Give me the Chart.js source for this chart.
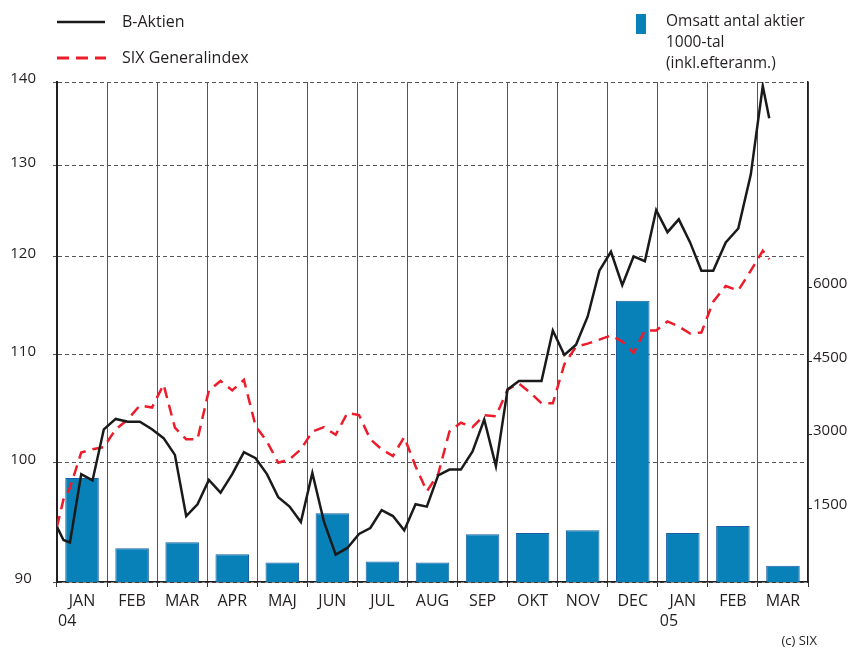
<!DOCTYPE html>
<html>
<head>
<meta charset="utf-8">
<script src="https://cdn.jsdelivr.net/npm/chart.js@4.4.1/dist/chart.umd.min.js"></script>
<style>
    html, body { margin: 0; padding: 0; background: #ffffff; }
    #wrap { width: 850px; height: 648px; }
</style>
</head>
<body>
<div id="wrap"><canvas id="chart" width="850" height="648"></canvas></div>
<script>
// Month categories (Jan 2004 - Mar 2005)
const months = ["JAN", "FEB", "MAR", "APR", "MAJ", "JUN", "JUL", "AUG", "SEP", "OKT", "NOV", "DEC", "JAN", "FEB", "MAR"];

// Omsatt antal aktier, 1000-tal, per month
const volume = [2120, 690, 810, 565, 400, 1400, 420, 400, 975, 1000, 1055, 5740, 1000, 1140, 330];

// B-Aktien, weekly
const bAktien = [
    94.5, 93.4, 93.2, 99.0, 98.45, 103.0, 103.95, 103.7, 103.7, 103.0,
    102.2, 100.7, 95.4, 96.4, 98.5, 97.4, 99.0, 100.95, 100.4, 99.0,
    97.0, 96.2, 94.9, 99.1, 94.9, 92.2, 92.75, 93.9, 94.4, 95.9,
    95.4, 94.2, 96.4, 96.2, 98.9, 99.4, 99.4, 101.0, 103.9, 99.7,
    106.7, 107.5, 107.5, 107.5, 112.4, 110.0, 111.0, 113.8, 118.5, 120.5,
    117.0, 120.0, 119.5, 125.0, 122.6, 124.0, 121.5, 118.5, 118.5, 121.5,
    123.0, 129.0, 139.5, 135.6
];

// SIX Generalindex, weekly
const sixIndex = [
    94.5, 96.8, 97.8, 100.9, 101.2, 101.4, 103.0, 103.9, 105.2, 105.0,
    107.15, 103.15, 102.1, 102.1, 106.6, 107.5, 106.6, 107.6, 103.3, 101.9,
    100.0, 100.3, 101.2, 102.8, 103.2, 102.5, 104.5, 104.3, 102.1, 101.2,
    100.6, 102.3, 99.7, 97.5, 99.0, 102.8, 103.6, 103.2, 104.3, 104.2,
    106.7, 107.25, 106.4, 105.4, 105.4, 109.1, 110.8, 111.1, 111.5, 111.9,
    111.3, 110.2, 112.4, 112.4, 113.3, 112.8, 112.1, 112.2, 115.3, 116.9,
    116.45, 118.5, 120.6, 119.7
];

const leftTicks = [90, 100, 110, 120, 130, 140];
const rightTicks = [1500, 3000, 4500, 6000];

const FONT = "'Open Sans', 'DejaVu Sans', sans-serif";
const TEXT = "#231f20";

// Observation dates: start of year, first trading Monday, weekly Fridays, last day
function buildDates() {
    const dates = [Date.UTC(2004, 0, 1), Date.UTC(2004, 0, 5)];
    const day = 24 * 3600 * 1000;
    for (let t = Date.UTC(2004, 0, 9); t <= Date.UTC(2005, 2, 4); t += 7 * day) {
        dates.push(t);
    }
    dates.push(Date.UTC(2005, 2, 8));
    return dates;
}

// Position in month units, 0 = start of Jan 2004
function monthPos(t) {
    const d = new Date(t);
    const y = d.getUTCFullYear();
    const m = d.getUTCMonth();
    const dim = new Date(Date.UTC(y, m + 1, 0)).getUTCDate();
    return (y - 2004) * 12 + m + (d.getUTCDate() - 1) / dim;
}

const weekX = buildDates().map(monthPos);
const toPoints = (values) => values.map((v, i) => ({ x: weekX[i], y: v }));

const legendPlugin = {
    id: "sixLegend",
    afterDraw(chart) {
        const ctx = chart.ctx;
        const area = chart.chartArea;
        ctx.save();
        ctx.font = "16px " + FONT;
        ctx.fillStyle = TEXT;
        ctx.textBaseline = "middle";
        ctx.textAlign = "left";

        // B-Aktien
        ctx.strokeStyle = "#1a1a1a";
        ctx.lineWidth = 2.5;
        ctx.beginPath();
        ctx.moveTo(57, 22);
        ctx.lineTo(105, 22);
        ctx.stroke();
        ctx.fillText("B-Aktien", 122, 22);

        // SIX Generalindex
        ctx.strokeStyle = "#ec1c2b";
        ctx.lineWidth = 3;
        ctx.setLineDash([12, 7]);
        ctx.beginPath();
        ctx.moveTo(57, 58);
        ctx.lineTo(106, 58);
        ctx.stroke();
        ctx.setLineDash([]);
        ctx.fillText("SIX Generalindex", 122, 58);

        // Omsatt antal aktier
        ctx.fillStyle = "#0880b8";
        ctx.fillRect(636, 14, 10, 20);
        ctx.fillStyle = TEXT;
        ctx.font = "15.5px " + FONT;
        ctx.fillText("Omsatt antal aktier", 666, 22);
        ctx.fillText("1000-tal", 666, 43);
        ctx.fillText("(inkl.efteranm.)", 666, 64);

        // Year markers under the month labels
        ctx.font = "16px " + FONT;
        const xs = chart.scales.x;
        const w = (area.right - area.left) / months.length;
        ctx.fillText("04", area.left + 1, 621);
        ctx.fillText("05", xs.getPixelForValue(12) - w / 2 + 2, 621);

        ctx.font = "13px " + FONT;
        ctx.textAlign = "right";
        ctx.fillText("(c) SIX", 817, 641);
        ctx.restore();
    }
};

const config = {
    data: {
        labels: months,
        datasets: [{
            type: "line",
            label: "B-Aktien",
            data: toPoints(bAktien),
            xAxisID: "x2",
            yAxisID: "y",
            borderColor: "#1a1a1a",
            borderWidth: 2.5,
            pointRadius: 0,
            tension: 0,
            order: 0,
        }, {
            type: "line",
            label: "SIX Generalindex",
            data: toPoints(sixIndex),
            xAxisID: "x2",
            yAxisID: "y",
            borderColor: "#ec1c2b",
            borderWidth: 2.5,
            borderDash: [11, 7],
            pointRadius: 0,
            tension: 0,
            order: 1,
        }, {
            type: "bar",
            label: "Omsatt antal aktier",
            data: volume,
            xAxisID: "x",
            yAxisID: "y2",
            backgroundColor: "#0880b8",
            borderColor: "#1a5fa3",
            borderWidth: 1,
            grouped: false,
            barPercentage: 0.67,
            categoryPercentage: 1,
            order: 2,
        }],
    },
    options: {
        responsive: false,
        animation: false,
        devicePixelRatio: 1,
        layout: { padding: { top: 82, left: 0, right: 0, bottom: 0 } },
        plugins: {
            legend: { display: false },
            tooltip: { enabled: false },
        },
        scales: {
            x: {
                type: "category",
                position: "bottom",
                offset: true,
                grid: {
                    offset: true,
                    color: "#555",
                    lineWidth: 1,
                    tickLength: 5,
                    tickColor: "#333",
                },
                border: { display: true, color: "#231f20", width: 1.5 },
                ticks: {
                    color: TEXT,
                    font: { family: FONT, size: 16 },
                    padding: 5,
                    maxRotation: 0,
                    autoSkip: false,
                },
                afterFit: (s) => { s.height = 66; },
            },
            x2: {
                type: "linear",
                min: 0,
                max: 15,
                display: false,
            },
            y: {
                type: "logarithmic",
                position: "left",
                min: 90,
                max: 140,
                afterBuildTicks: (s) => {
                    s.ticks = leftTicks.map((v) => ({ value: v }));
                },
                grid: {
                    color: "#555",
                    lineWidth: 1,
                    tickLength: 4,
                },
                border: { display: true, color: "#231f20", width: 2, dash: [4, 3] },
                ticks: {
                    color: TEXT,
                    font: { family: FONT, size: 15 },
                    crossAlign: "center",
                    padding: 17,
                    labelOffset: -3,
                    callback: (v) => String(v),
                },
                afterFit: (s) => { s.width = 57; },
            },
            y2: {
                type: "linear",
                position: "right",
                min: 0,
                max: 10200,
                afterBuildTicks: (s) => {
                    s.ticks = rightTicks.map((v) => ({ value: v }));
                },
                grid: {
                    drawOnChartArea: false,
                    color: "#231f20",
                    tickLength: 4,
                },
                border: { display: true, color: "#231f20", width: 1.5 },
                ticks: {
                    color: TEXT,
                    font: { family: FONT, size: 15 },
                    padding: 1,
                    labelOffset: -4,
                    callback: (v) => String(v),
                },
                afterFit: (s) => { s.width = 42; },
            },
        },
    },
    plugins: [legendPlugin],
};

new Chart(document.getElementById("chart").getContext("2d"), config);
</script>
</body>
</html>
